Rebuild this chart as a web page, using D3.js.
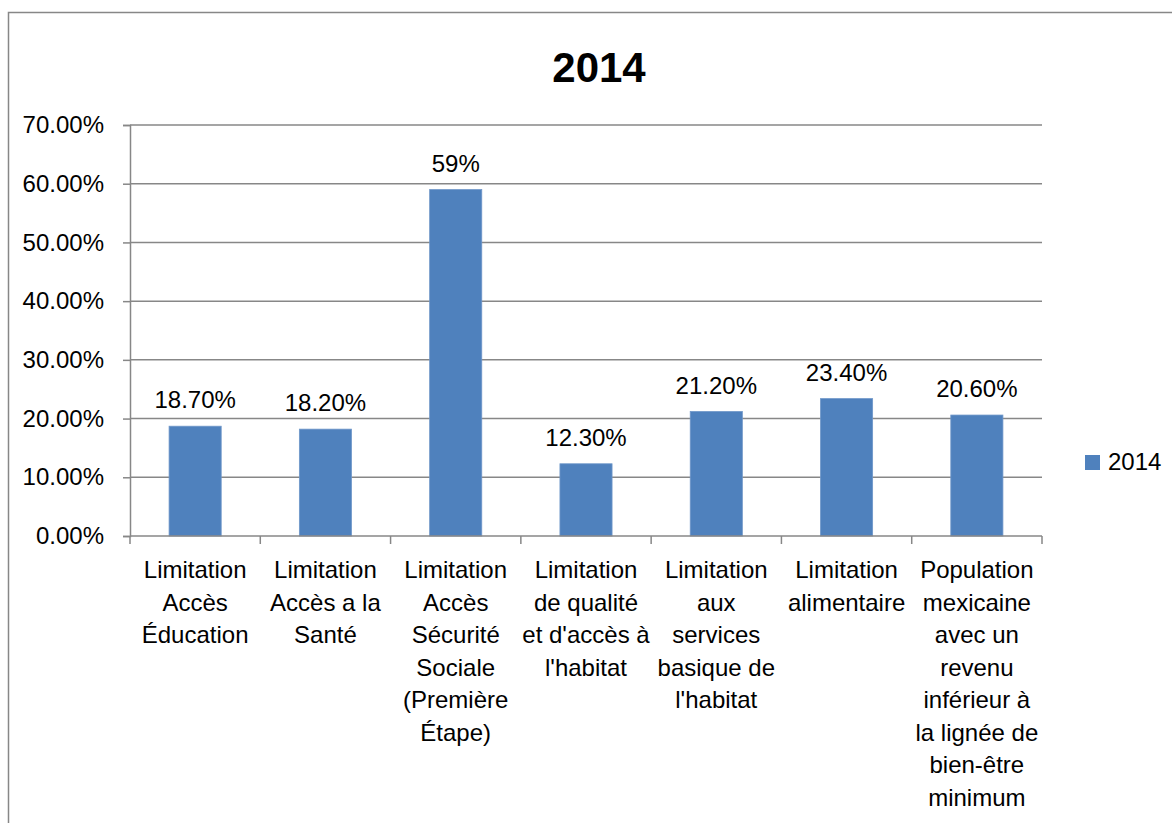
<!DOCTYPE html>
<html>
<head>
<meta charset="utf-8">
<script src="https://cdn.jsdelivr.net/npm/d3@7"></script>
<style>
  body { margin: 0; background: #fff; }
  svg text { font-family: "Liberation Sans", Arial, sans-serif; fill: #000; }
</style>
</head>
<body>
<div id="chart"></div>
<script>
// --- Data ---
const categories = [
  ["Limitation", "Accès", "Éducation"],
  ["Limitation", "Accès a la", "Santé"],
  ["Limitation", "Accès", "Sécurité", "Sociale", "(Première", "Étape)"],
  ["Limitation", "de qualité", "et d'accès à", "l'habitat"],
  ["Limitation", "aux", "services", "basique de", "l'habitat"],
  ["Limitation", "alimentaire"],
  ["Population", "mexicaine", "avec un", "revenu", "inférieur à", "la lignée de", "bien-être", "minimum"]
];
const values = [0.187, 0.182, 0.59, 0.123, 0.212, 0.234, 0.206];
const valueLabels = ["18.70%", "18.20%", "59%", "12.30%", "21.20%", "23.40%", "20.60%"];
const yTicks = [0, 0.1, 0.2, 0.3, 0.4, 0.5, 0.6, 0.7];
const seriesName = "2014";

const width = 1172, height = 823;
const margin = { left: 130, right: 130, top: 125, bottom: 287 };
const barColor = "#4F81BD";
const gridColor = "#878787";

const svg = d3.select("#chart").append("svg")
    .attr("width", width)
    .attr("height", height);

// Outer chart border (right/bottom run off the picture)
svg.append("rect")
    .attr("x", 8.5).attr("y", 12.5)
    .attr("width", width + 20).attr("height", height + 20)
    .attr("fill", "none")
    .attr("stroke", gridColor)
    .attr("stroke-width", 1.5);

// --- Scales ---
const x = d3.scaleBand()
    .domain(d3.range(categories.length))
    .range([margin.left, width - margin.right])
    .paddingInner(0.6)
    .paddingOuter(0.3);

const y = d3.scaleLinear()
    .domain([0, 0.7])
    .range([height - margin.bottom, margin.top]);

// --- Title ---
svg.append("text")
    .attr("x", 599)
    .attr("y", 82)
    .attr("text-anchor", "middle")
    .style("font-size", "42px")
    .style("font-weight", "bold")
    .text(seriesName);

// --- Gridlines ---
svg.append("g")
    .selectAll("line")
    .data(yTicks.filter(d => d > 0))
    .join("line")
    .attr("x1", margin.left)
    .attr("x2", width - margin.right)
    .attr("y1", d => y(d))
    .attr("y2", d => y(d))
    .attr("stroke", gridColor)
    .attr("stroke-width", 1.5);

// --- Y axis ---
const yAxis = svg.append("g")
    .attr("transform", `translate(${margin.left},0)`)
    .call(d3.axisLeft(y).tickValues(yTicks).tickFormat(d3.format(".2%")).tickSize(7).tickPadding(19));
yAxis.select(".domain").attr("stroke", gridColor).attr("stroke-width", 1.5);
yAxis.selectAll(".tick line").attr("stroke", gridColor).attr("stroke-width", 1.5);
yAxis.selectAll(".tick text")
    .style("font-size", "24px")
    .attr("font-family", null)
    .attr("dy", "0.32em");

// --- Bars ---
svg.append("g")
    .selectAll("rect")
    .data(values)
    .join("rect")
    .attr("x", (d, i) => x(i))
    .attr("y", d => y(d))
    .attr("width", x.bandwidth())
    .attr("height", d => y(0) - y(d))
    .attr("fill", barColor)
    .attr("stroke", "#6F97C9")
    .attr("stroke-width", 0.8);

// --- Value labels ---
svg.append("g")
    .selectAll("text")
    .data(values)
    .join("text")
    .attr("x", (d, i) => x(i) + x.bandwidth() / 2)
    .attr("y", d => y(d) - 18)
    .attr("text-anchor", "middle")
    .style("font-size", "24px")
    .text((d, i) => valueLabels[i]);

// --- X axis line and category ticks ---
const x0 = margin.left, x1 = width - margin.right;
const step = (x1 - x0) / categories.length;
svg.append("line")
    .attr("x1", x0).attr("x2", x1)
    .attr("y1", y(0)).attr("y2", y(0))
    .attr("stroke", gridColor).attr("stroke-width", 1.5);
svg.append("g")
    .selectAll("line")
    .data(d3.range(categories.length + 1))
    .join("line")
    .attr("x1", i => x0 + i * step)
    .attr("x2", i => x0 + i * step)
    .attr("y1", y(0))
    .attr("y2", y(0) + 8)
    .attr("stroke", gridColor).attr("stroke-width", 1.5);

// --- Category labels ---
const catText = svg.append("g")
    .selectAll("text")
    .data(categories)
    .join("text")
    .attr("x", (d, i) => x(i) + x.bandwidth() / 2)
    .attr("y", 578)
    .attr("text-anchor", "middle")
    .style("font-size", "24px");
catText.selectAll("tspan")
    .data(d => d)
    .join("tspan")
    .attr("x", function() { return this.parentNode.getAttribute("x"); })
    .attr("dy", (d, j) => j === 0 ? 0 : 32.5)
    .text(d => d);

// --- Legend ---
const legend = svg.append("g").attr("transform", "translate(1085,455)");
legend.append("rect")
    .attr("width", 15).attr("height", 15)
    .attr("fill", barColor);
legend.append("text")
    .attr("x", 23).attr("y", 15)
    .style("font-size", "24px")
    .text(seriesName);
</script>
</body>
</html>
